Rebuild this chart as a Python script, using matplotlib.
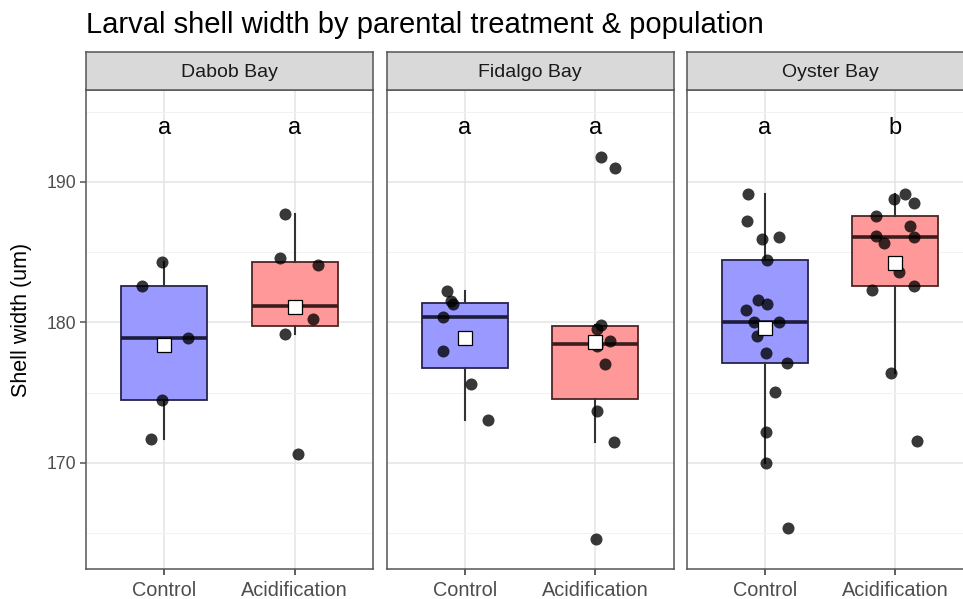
import matplotlib
matplotlib.use("Agg")
import matplotlib.pyplot as plt
import numpy as np

plt.rcParams['font.family'] = ['Liberation Sans', 'DejaVu Sans']

# ---------------- data ----------------
populations = ["Dabob Bay", "Fidalgo Bay", "Oyster Bay"]
treatments = ["Control", "Acidification"]

dabob_control = [184.3, 182.6, 178.9, 174.5, 171.7]
dabob_control_jit = [-0.015, -0.17, 0.18, -0.02, -0.10]
dabob_acid = [187.7, 184.6, 184.05, 180.26, 179.17, 170.6, 181.16]
dabob_acid_jit = [-0.077, -0.11, 0.18, 0.14, -0.077, 0.026, 0.0]

fidalgo_control = [182.2, 181.5, 181.3, 180.4, 177.96, 175.6, 173.05]
fidalgo_control_jit = [-0.135, -0.11, -0.09, -0.17, -0.17, 0.05, 0.18]
fidalgo_acid = [191.79, 191.0, 179.8, 179.5, 178.67, 178.3, 177.03, 173.7, 171.5, 164.55]
fidalgo_acid_jit = [0.044, 0.15, 0.044, 0.015, 0.108, 0.015, 0.07, 0.01, 0.14, 0.005]

oyster_control = [189.1, 187.2, 185.95, 186.1, 184.43, 181.6, 181.28, 180.87, 180.0,
                  180.0, 179.0, 177.84, 177.08, 175.06, 172.2, 170.0, 165.34]
oyster_control_jit = [-0.128, -0.14, -0.026, 0.11, 0.013, -0.056, 0.018, -0.149, -0.085,
                      0.11, -0.064, 0.008, 0.167, 0.077, 0.008, 0.008, 0.174]
oyster_acid = [188.78, 189.1, 188.47, 187.6, 186.88, 186.16, 186.09, 185.62, 183.6,
               182.3, 182.6, 176.41, 171.57]
oyster_acid_jit = [-0.008, 0.07, 0.146, -0.149, 0.108, -0.149, 0.146, -0.085, 0.03,
                   -0.18, 0.146, -0.033, 0.164]

values = [[dabob_control, dabob_acid], [fidalgo_control, fidalgo_acid], [oyster_control, oyster_acid]]
jitters = [[dabob_control_jit, dabob_acid_jit], [fidalgo_control_jit, fidalgo_acid_jit],
           [oyster_control_jit, oyster_acid_jit]]
letters = [["a", "a"], ["a", "a"], ["a", "b"]]
letter_y = 193.8

yticks = [170, 180, 190]
yminor = [165, 175, 185, 195]

# ---------------- styling ----------------
W, H = 963, 599
fig = plt.figure(figsize=(W / 100, H / 100), dpi=100)

fills = ["#9999FF", "#FF9999"]
edges = ["#24244f", "#4f2424"]
meds = ["#1c1c3c", "#3c1c1c"]
border = "#555555"

lefts = [86, 386.7, 686.7]
pw = 287
ax_top, ax_bot = 89.5, 569
strip_top = 52

for i, pop in enumerate(populations):
    ax = fig.add_axes([lefts[i] / W, 1 - ax_bot / H, pw / W, (ax_bot - ax_top) / H])
    for j in range(2):
        bp = ax.boxplot([values[i][j]], positions=[j + 1], widths=0.66, patch_artist=True,
                        showfliers=False, whis=1.5, showcaps=False,
                        boxprops=dict(facecolor=fills[j], edgecolor=edges[j], linewidth=1.3),
                        whiskerprops=dict(color="#333333", linewidth=1.5),
                        medianprops=dict(color=meds[j], linewidth=2.6), zorder=2)
        xs = np.array(jitters[i][j]) + j + 1
        ax.scatter(xs, values[i][j], s=75, color='black', alpha=0.78, lw=0, zorder=3)
        ax.plot([j + 1], [np.mean(values[i][j])], marker='s', ms=9.5, mfc='white', mec='black',
                mew=0.9, zorder=4, ls='none')
        ax.text(j + 1, letter_y, letters[i][j], ha='center', va='center', fontsize=17,
                color='black', zorder=5)
    ax.set_xlim(0.4, 2.6)
    ax.set_ylim(162.44, 196.57)
    ax.set_yticks(yticks)
    ax.set_yticks(yminor, minor=True)
    ax.set_xticks([1, 2])
    ax.set_xticks([], minor=True)
    ax.set_xticklabels(treatments, fontsize=14.3, color='#4D4D4D')
    ax.grid(True, which='major', color='#E6E6E6', lw=1.2, zorder=0)
    ax.grid(True, which='minor', axis='y', color='#F2F2F2', lw=0.7, zorder=0)
    ax.set_axisbelow(True)
    for s in ax.spines.values():
        s.set_color(border)
        s.set_linewidth(1.1)
    ax.tick_params(axis='x', length=4, color='#333333', width=1.1, pad=5)
    if i == 0:
        ax.tick_params(axis='y', which='major', length=4, color='#555555', width=1.1,
                       labelsize=12.7, labelcolor='#4D4D4D', pad=3)
    else:
        ax.tick_params(axis='y', which='major', length=0, labelleft=False)
    ax.tick_params(axis='y', which='minor', length=0)

    sax = fig.add_axes([lefts[i] / W, 1 - ax_top / H, pw / W, (ax_top - strip_top) / H])
    sax.set_facecolor('#D9D9D9')
    sax.set_xticks([])
    sax.set_yticks([])
    for s in sax.spines.values():
        s.set_color(border)
        s.set_linewidth(1.1)
    sax.text(0.5, 0.45, pop, transform=sax.transAxes, ha='center', va='center',
             fontsize=14, color='#1A1A1A')

fig.text(86 / W, 1 - 33 / H, "Larval shell width by parental treatment & population",
         ha='left', va='baseline', fontsize=21, color='black')
fig.text(22 / W, 1 - 320 / H, "Shell width (um)", rotation=90, ha='center', va='center',
         fontsize=15.5, color='black')

fig.savefig("out.png", dpi=100)
